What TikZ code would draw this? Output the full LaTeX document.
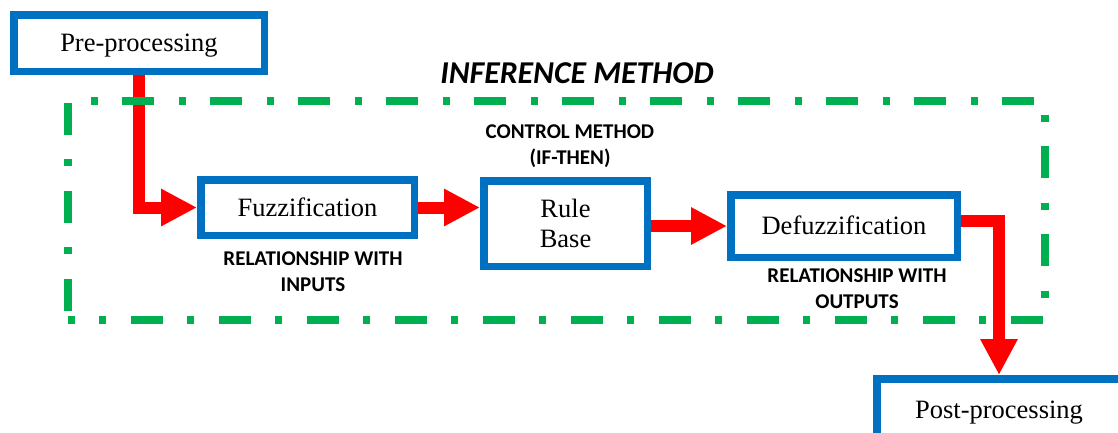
\documentclass[tikz,border=0pt]{standalone}
\usepackage{fontspec}
\setmainfont{Liberation Serif}
\newfontfamily\labelfont{Carlito}
\usetikzlibrary{arrows.meta,backgrounds}
\definecolor{boxblue}{HTML}{0070C0}
\definecolor{framegreen}{HTML}{00B050}
\definecolor{flowred}{HTML}{FF0000}
\tikzset{
  block/.style={draw=boxblue, line width=7.5pt, fill=white, inner sep=0pt,
    align=center, font=\fontsize{26.5}{30}\selectfont},
  oneline/.style={text height=17.5pt, text depth=0pt},
  flow/.style={draw=flowred, line width=12pt, line join=miter,
    -{Triangle[length=36pt,width=35pt]}},
  stageframe/.style={draw=framegreen, line width=8pt, line join=miter,
    dash pattern=on 32pt off 25pt on 7pt off 24pt, dash phase=79pt},
  note/.style={inner sep=0pt, align=center,
    font=\labelfont\bfseries\fontsize{21}{26}\selectfont},
  heading/.style={inner sep=0pt,
    font=\labelfont\bfseries\itshape\fontsize{31.8}{36}\selectfont}
}
\begin{document}
\begin{tikzpicture}[x=1pt,y=-1pt]
  \useasboundingbox (0,0) rectangle (1118,432);
  \clip (0,0) rectangle (1118,432);

  % processing stages
  \node[block, oneline, minimum width=250.5pt, minimum height=56.5pt] (pre) at (139,43) {Pre-processing};
  \node[block, oneline, minimum width=213.5pt, minimum height=55.5pt] (fuzz) at (307.5,207.5) {Fuzzification};
  \node[block, minimum width=163.5pt, minimum height=85.5pt] (rule) at (565.5,223.5) {Rule\\Base};
  \node[block, oneline, minimum width=226.5pt, minimum height=62.5pt] (defuzz) at (844,226) {Defuzzification};
  \node[block, oneline, minimum width=244.5pt, minimum height=62.5pt] (post) at (999,410) {Post-processing};

  % labels
  \node[heading] (inftitle) at (577,73) {INFERENCE METHOD};
  \node[note] (ctrl) at (570,146) {CONTROL METHOD\\(IF-THEN)};
  \node[note] (inrel) at (313,272) {RELATIONSHIP WITH\\INPUTS};
  \node[note] (outrel) at (857,289) {RELATIONSHIP WITH\\OUTPUTS};

  % extent of the inference block
  \node[inner sep=0pt, minimum width=977pt, minimum height=218.5pt] (inference) at (556.5,210.25) {};

  \begin{pgfonlayer}{background}
    % data flow
    \draw[flow] (pre.south) |- (fuzz.west);
    \draw[flow] (fuzz.east) -- (fuzz.east -| rule.west);
    \draw[flow] (rule.east |- defuzz.west) -- (defuzz.west);
    \draw[flow] ([yshift=5.5pt]defuzz.east) -| (post.north);
    % inference block outline
    \draw[stageframe] (inference.south west) -- (inference.north west)
      -- (inference.north east) -- (inference.south east) -- cycle;
  \end{pgfonlayer}
\end{tikzpicture}
\end{document}
